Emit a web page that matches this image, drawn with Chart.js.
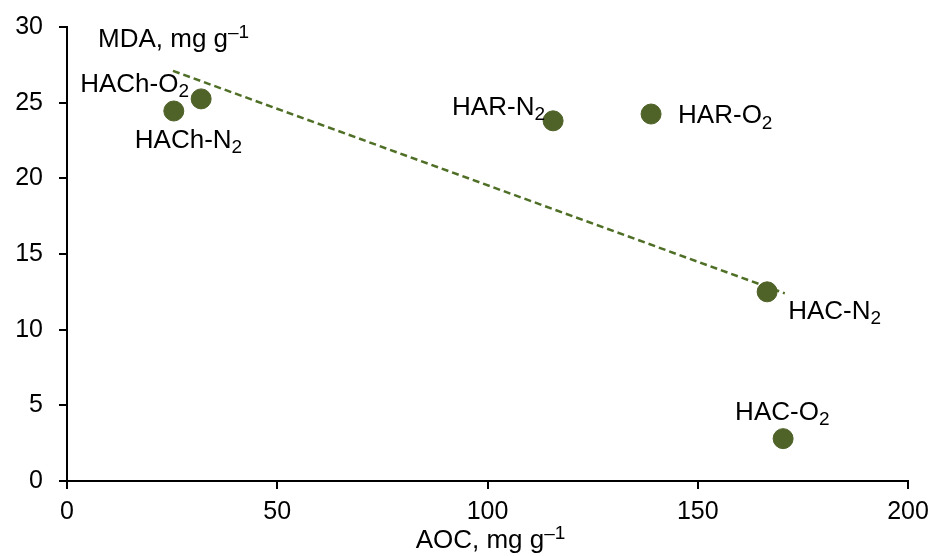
<!DOCTYPE html>
<html>
<head>
<meta charset="utf-8">
<script src="https://cdn.jsdelivr.net/npm/chart.js@4.4.1/dist/chart.umd.min.js"></script>
<style>
  html, body { margin: 0; padding: 0; background: #fff; }
  #wrap { width: 933px; height: 556px; position: relative; }
</style>
</head>
<body>
<div id="wrap"><canvas id="c"></canvas></div>
<script>
// ---- data ----
const categories = ['HACh-N2', 'HACh-O2', 'HAR-N2', 'HAR-O2', 'HAC-N2', 'HAC-O2'];
const aocValues = [25.4, 31.9, 115.6, 138.9, 166.5, 170.3];
const mdaValues = [24.45, 25.25, 23.8, 24.25, 12.5, 2.8];
const trendX = [25.2, 170.7];
const trendY = [27.1, 12.4];
const xTicks = [0, 50, 100, 150, 200];
const yTicks = [0, 5, 10, 15, 20, 25, 30];
const xTitle = ['AOC, mg g', '–1'];
const yTitle = ['MDA, mg g', '–1'];

// ---- styling ----
const GREEN = '#4F6228';
const LINE_GREEN = '#4F6F26';
const FONT = '"Liberation Sans", Arial, sans-serif';
const FS = 25;      // tick labels
const LFS = 26;     // point labels and titles
const labelOffsets = [[-39, 28], [-121, -16], [-101, -15], [27, 0], [21, 18], [-48, -28]];

const points = aocValues.map((x, i) => ({ x: x, y: mdaValues[i] }));
const trend = trendX.map((x, i) => ({ x: x, y: trendY[i] }));

function drawSubText(ctx, main, sub, x, yCenter, size, mode) {
  const base = yCenter + size * 0.358;
  ctx.textAlign = 'left';
  ctx.textBaseline = 'alphabetic';
  ctx.font = size + 'px ' + FONT;
  ctx.fillText(main, x, base);
  const w = ctx.measureText(main).width;
  const ss = Math.round(size * 0.72);
  ctx.font = ss + 'px ' + FONT;
  if (mode === 'sub') {
    ctx.fillText(sub, x + w, base + size * 0.2);
  } else {
    ctx.fillText(sub, x + w, base - size * 0.36);
  }
  return w + ctx.measureText(sub).width;
}

const labelPlugin = {
  id: 'labels',
  beforeDraw(chart) {
    const ctx = chart.ctx;
    ctx.save();
    ctx.fillStyle = '#fff';
    ctx.fillRect(0, 0, chart.width, chart.height);
    ctx.restore();
  },
  afterDatasetsDraw(chart) {
    const ctx = chart.ctx;
    const meta = chart.getDatasetMeta(1);
    ctx.save();
    ctx.fillStyle = '#000';
    meta.data.forEach((el, i) => {
      const name = categories[i];
      const main = name.slice(0, -1);
      const sub = name.slice(-1);
      drawSubText(ctx, main, sub, el.x + labelOffsets[i][0], el.y + labelOffsets[i][1], LFS, 'sub');
    });
    const area = chart.chartArea;
    // y title inside plot, top-left
    drawSubText(ctx, yTitle[0], yTitle[1], area.left + 31, area.top + 11, LFS, 'sup');
    // x title centered below
    ctx.font = LFS + 'px ' + FONT;
    const w1 = ctx.measureText(xTitle[0]).width;
    ctx.font = Math.round(LFS * 0.72) + 'px ' + FONT;
    const w2 = ctx.measureText(xTitle[1]).width;
    const cx = (area.left + area.right) / 2 + 3;
    drawSubText(ctx, xTitle[0], xTitle[1], cx - (w1 + w2) / 2, 539, LFS, 'sup');
    ctx.restore();
  }
};

const axisCommon = {
  border: { display: true, color: '#000', width: 2 },
  grid: { display: true, drawOnChartArea: false, drawTicks: true, tickLength: 8, color: '#000', lineWidth: 2 },
};

new Chart(document.getElementById('c'), {
  type: 'scatter',
  data: {
    datasets: [
      {
        type: 'line',
        data: trend,
        borderColor: LINE_GREEN,
        borderWidth: 2.5,
        borderDash: [7, 4],
        pointRadius: 0,
        fill: false,
        order: 2
      },
      {
        data: points,
        backgroundColor: GREEN,
        borderColor: GREEN,
        pointRadius: 10,
        pointHoverRadius: 10,
        order: 1
      }
    ]
  },
  options: {
    responsive: true,
    maintainAspectRatio: false,
    animation: false,
    events: [],
    layout: { padding: { top: 27, right: 25, left: 0, bottom: 0 } },
    plugins: { legend: { display: false }, tooltip: { enabled: false } },
    scales: {
      x: Object.assign({}, axisCommon, {
        type: 'linear',
        min: 0, max: 200,
        afterBuildTicks: (s) => { s.ticks = xTicks.map(v => ({ value: v })); },
        afterFit: (s) => { s.height = 75; s.paddingLeft = 0; s.paddingRight = 0; },
        ticks: { color: '#000', font: { family: FONT, size: FS }, padding: 8, maxRotation: 0 }
      }),
      y: Object.assign({}, axisCommon, {
        type: 'linear',
        min: 0, max: 30,
        afterBuildTicks: (s) => { s.ticks = yTicks.map(v => ({ value: v })); },
        afterFit: (s) => { s.width = 67; s.paddingTop = 0; s.paddingBottom = 0; },
        ticks: { color: '#000', font: { family: FONT, size: FS }, padding: 16 }
      })
    }
  },
  plugins: [labelPlugin]
});
</script>
</body>
</html>
